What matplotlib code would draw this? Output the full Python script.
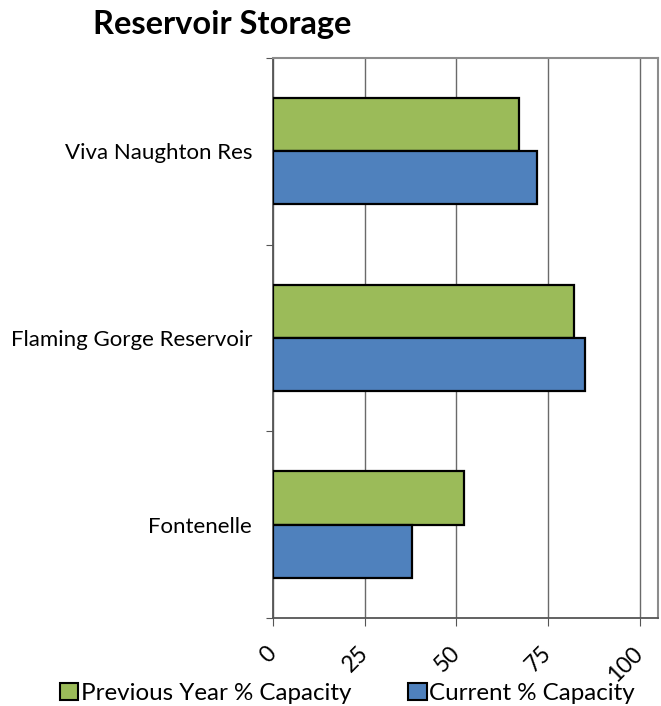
import numpy as np
import matplotlib
matplotlib.use('Agg')
import matplotlib.pyplot as plt
from matplotlib.patches import Patch

plt.rcParams['font.family'] = ['Lato', 'DejaVu Sans']

reservoirs = ['Fontenelle', 'Flaming Gorge Reservoir', 'Viva Naughton Res']
prev_year = [52, 82, 67]
current = [38, 85, 72]
xticks = [0, 25, 50, 75, 100]

green = '#9BBB59'
blue = '#4F81BD'

fig = plt.figure(figsize=(6.61, 7.06), dpi=100)
ax = fig.add_axes([0.413, 0.1246, 0.5825, 0.7934])

y = np.arange(len(reservoirs))
h = 0.285
ax.barh(y + h / 2, prev_year, height=h, color=green, edgecolor='black', linewidth=1.6, zorder=3)
ax.barh(y - h / 2, current, height=h, color=blue, edgecolor='black', linewidth=1.6, zorder=3)

ax.set_xlim(0, 105)
ax.set_ylim(-0.5, 2.5)
ax.set_xticks(xticks)
ax.set_xticklabels([str(t) for t in xticks], rotation=45, ha='right', va='center',
                   rotation_mode='anchor', fontsize=16.5)
ax.xaxis.grid(True, color='#6a6a6a', linewidth=1.0, zorder=0)

ax.set_yticks([-0.5, 0.5, 1.5, 2.5])
ax.set_yticklabels([])
ax.set_yticks(y, minor=True)
ax.set_yticklabels(reservoirs, minor=True, fontsize=16)
ax.tick_params(axis='y', which='minor', length=0, pad=15)
ax.tick_params(axis='y', which='major', length=5, color='#555555')
ax.tick_params(axis='x', length=6, color='#555555', pad=17)

for side in ['top', 'right']:
    ax.spines[side].set_color('#8c8c8c')
    ax.spines[side].set_linewidth(1.5)
ax.spines['left'].set_color('#555555')
ax.spines['bottom'].set_color('#555555')
ax.spines['left'].set_linewidth(1.3)
ax.spines['bottom'].set_linewidth(1.3)

fig.text(0.141, 0.966, 'Reservoir Storage', fontsize=23.5, fontweight='bold', va='center', ha='left')

handles = [Patch(facecolor=green, edgecolor='black', linewidth=1.5),
           Patch(facecolor=blue, edgecolor='black', linewidth=1.5)]
fig.legend(handles, ['Previous Year % Capacity', 'Current % Capacity'],
           loc='center', bbox_to_anchor=(0.526, 0.018), ncol=2, frameon=False,
           fontsize=17.4, handlelength=0.75, handleheight=0.75, handletextpad=0.12,
           columnspacing=2.35, borderaxespad=0)

fig.savefig('out.png', dpi=100)
